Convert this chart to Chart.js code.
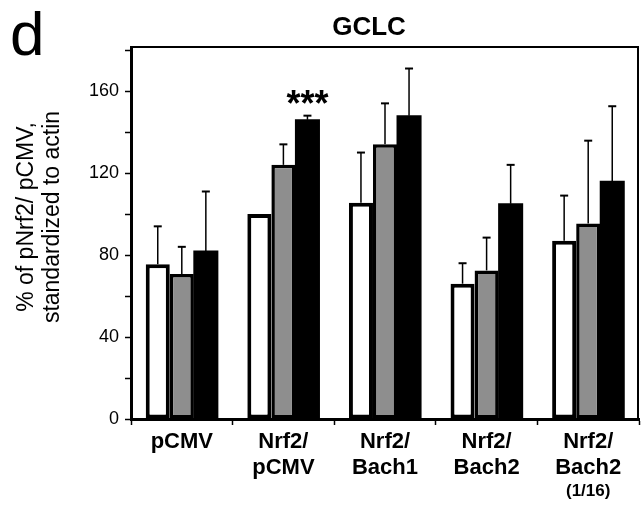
<!DOCTYPE html>
<html>
<head>
<meta charset="utf-8">
<script src="https://cdn.jsdelivr.net/npm/chart.js@4.4.1/dist/chart.umd.min.js"></script>
<style>
  html, body { margin: 0; padding: 0; background: #fff; }
  #wrap { width: 641px; height: 505px; position: relative; }
</style>
</head>
<body>
<div id="wrap"><canvas id="gclcChart" width="641" height="505"></canvas></div>
<script>
// Categories (x axis)
const categories = ['pCMV', ['Nrf2/', 'pCMV'], ['Nrf2/', 'Bach1'], ['Nrf2/', 'Bach2'], ['Nrf2/', 'Bach2']];
const categoryNotes = ['', '', '', '', '(1/16)'];

// Series values (% of pNrf2/pCMV)
const whiteValues = [75.5, 100, 105.5, 66, 87];
const whiteErrors = [18.5, 0, 24.5, 10, 22];
const grayValues = [70.7, 124, 134, 72.5, 95.4];
const grayErrors = [13.3, 10, 20, 16, 40.4];
const blackValues = [82, 146, 148, 105, 116];
const blackErrors = [29, 2, 23, 19, 36.6];

// Y tick labels shown every 40, minor ticks every 20
const yTickLabels = [0, 40, 80, 120, 160];

const FONT = "'Liberation Sans', Arial, Helvetica, sans-serif";
const errorSets = [whiteErrors, grayErrors, blackErrors];

// Error bars (upward only) drawn through the y scale
const errorBarPlugin = {
    id: 'errorBars',
    afterDatasetsDraw(chart) {
        const ctx = chart.ctx;
        const yScale = chart.scales.y;
        ctx.save();
        ctx.strokeStyle = '#000';
        chart.data.datasets.forEach((ds, i) => {
            const meta = chart.getDatasetMeta(i);
            meta.data.forEach((bar, j) => {
                const err = errorSets[i][j];
                if (!err) return;
                const yTop = yScale.getPixelForValue(ds.data[j] + err);
                ctx.lineWidth = 1.5;
                ctx.beginPath();
                ctx.moveTo(bar.x, bar.y);
                ctx.lineTo(bar.x, yTop);
                ctx.stroke();
                ctx.lineWidth = 2;
                ctx.beginPath();
                ctx.moveTo(bar.x - 4, yTop);
                ctx.lineTo(bar.x + 4, yTop);
                ctx.stroke();
            });
        });
        ctx.restore();
    }
};

// Frame, titles and extra texts
const decorPlugin = {
    id: 'decor',
    afterDraw(chart) {
        const ctx = chart.ctx;
        const area = chart.chartArea;
        const xScale = chart.scales.x;
        const yScale = chart.scales.y;
        ctx.save();

        // top and right frame lines
        ctx.strokeStyle = '#000';
        ctx.lineWidth = 2;
        ctx.beginPath();
        ctx.moveTo(area.left, area.top);
        ctx.lineTo(area.right - 1, area.top);
        ctx.lineTo(area.right - 1, area.bottom);
        ctx.stroke();

        ctx.fillStyle = '#000';

        // panel letter
        ctx.font = '62px ' + FONT;
        ctx.textAlign = 'left';
        ctx.textBaseline = 'alphabetic';
        ctx.fillText('d', 10, 55);

        // title
        ctx.font = 'bold 26px ' + FONT;
        ctx.textAlign = 'center';
        ctx.fillText('GCLC', 369, 35);

        // y axis title, two lines
        ctx.save();
        ctx.translate(27, 217);
        ctx.rotate(-Math.PI / 2);
        ctx.font = '23px ' + FONT;
        ctx.textAlign = 'center';
        ctx.textBaseline = 'middle';
        ctx.fillText('% of pNrf2/ pCMV,', 0, 0);
        ctx.fillText('standardized to actin', 0, 26);
        ctx.restore();

        // significance stars above Nrf2/pCMV black bar
        const blackMeta = chart.getDatasetMeta(2);
        const starBar = blackMeta.data[1];
        ctx.font = 'bold 36px ' + FONT;
        ctx.textAlign = 'center';
        ctx.textBaseline = 'alphabetic';
        ctx.fillText('***', starBar.x, yScale.getPixelForValue(blackValues[1] + blackErrors[1]));

        // small third line under category labels
        ctx.font = 'bold 17px ' + FONT;
        ctx.textBaseline = 'middle';
        categoryNotes.forEach((note, i) => {
            if (note) ctx.fillText(note, xScale.getPixelForValue(i), 491);
        });

        ctx.restore();
    }
};

new Chart(document.getElementById('gclcChart').getContext('2d'), {
    type: 'bar',
    data: {
        labels: categories,
        datasets: [
            {
                data: whiteValues,
                backgroundColor: '#ffffff',
                borderColor: '#000000',
                borderWidth: 4,
                borderSkipped: false,
                categoryPercentage: 0.71,
                barPercentage: 1.0,
                inflateAmount: 0
            },
            {
                data: grayValues,
                backgroundColor: '#8e8e8e',
                borderColor: '#000000',
                borderWidth: 3.5,
                borderSkipped: false,
                categoryPercentage: 0.71,
                barPercentage: 1.0,
                inflateAmount: 0
            },
            {
                data: blackValues,
                backgroundColor: '#000000',
                borderColor: '#000000',
                borderWidth: 0,
                categoryPercentage: 0.71,
                barPercentage: 1.0,
                inflateAmount: 0.5
            }
        ]
    },
    options: {
        responsive: false,
        animation: false,
        layout: {
            padding: { left: 0, top: 47, right: 2, bottom: 0 }
        },
        plugins: {
            legend: { display: false },
            tooltip: { enabled: false },
            title: { display: false }
        },
        scales: {
            x: {
                afterFit(scale) { scale.height = 86; },
                grid: {
                    display: true,
                    drawOnChartArea: false,
                    drawTicks: true,
                    tickLength: 6,
                    tickWidth: 1.5,
                    color: '#000',
                    offset: true
                },
                border: { display: true, color: '#000', width: 3 },
                ticks: {
                    color: '#000',
                    padding: 4,
                    maxRotation: 0,
                    autoSkip: false,
                    font: { family: FONT, size: 22, weight: 'bold', lineHeight: 1.18 }
                }
            },
            y: {
                min: 0,
                max: 181.5,
                afterFit(scale) { scale.width = 131; },
                grid: {
                    display: true,
                    drawOnChartArea: false,
                    drawTicks: true,
                    tickLength: 6,
                    tickWidth: 1.5,
                    color: '#000'
                },
                border: { display: true, color: '#000', width: 3 },
                ticks: {
                    stepSize: 20,
                    includeBounds: false,
                    color: '#000',
                    padding: 6,
                    font: { family: FONT, size: 18 },
                    callback: function(value) {
                        return yTickLabels.includes(value) ? String(value) : '';
                    }
                }
            }
        }
    },
    plugins: [errorBarPlugin, decorPlugin]
});
</script>
</body>
</html>
